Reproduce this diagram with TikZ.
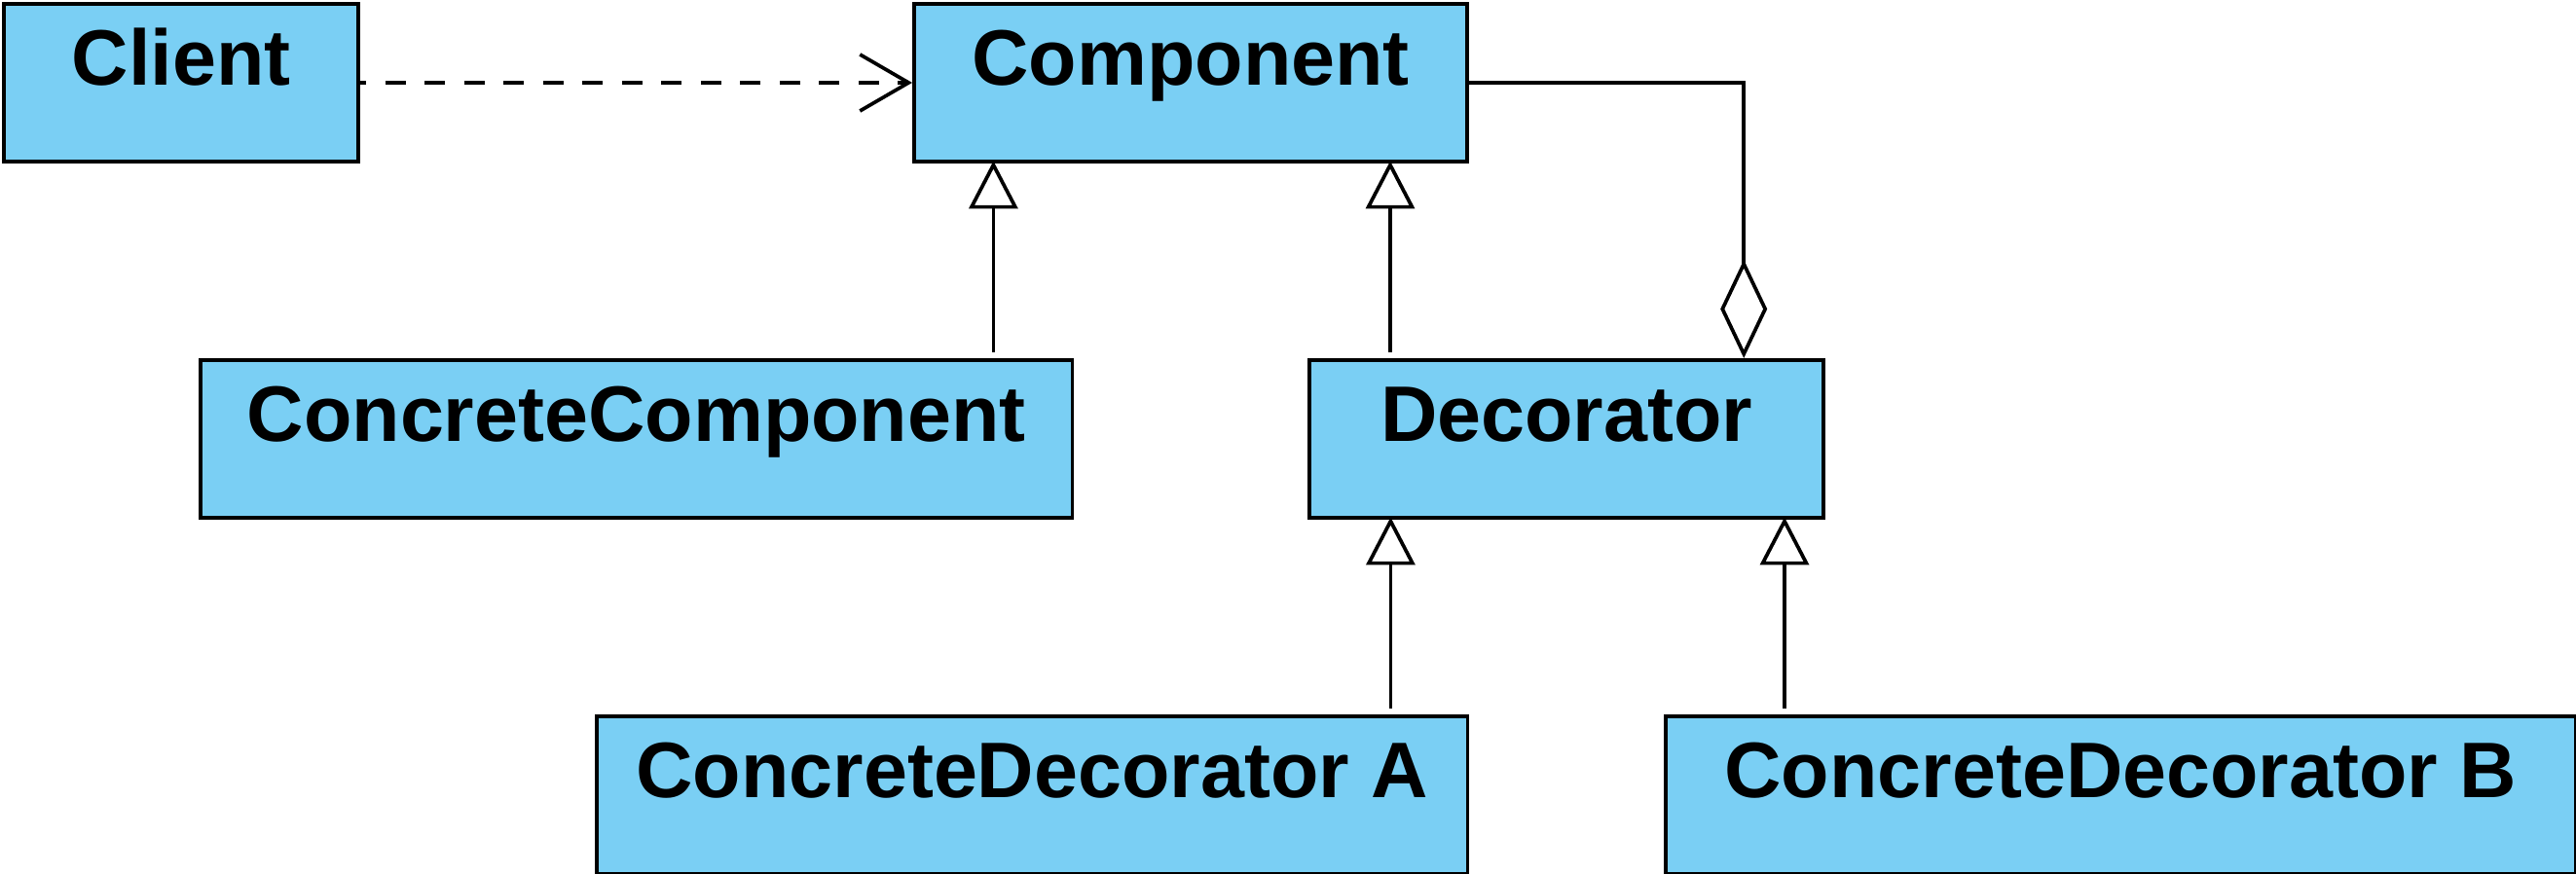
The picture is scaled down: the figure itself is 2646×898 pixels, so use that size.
\documentclass[tikz,border=0pt]{standalone}
\usepackage{fontspec}
\setmainfont{Liberation Sans}
\usetikzlibrary{arrows.meta}
\definecolor{boxblue}{RGB}{122,207,244}
\begin{document}
\begin{tikzpicture}[x=0.01cm,y=-0.01cm,
  cls/.style={draw=black, fill=boxblue, line width=1.1pt, rectangle, inner sep=0pt,
    anchor=north west, text height=0.84cm, text depth=0.78cm, align=center,
    font=\fontsize{23}{28}\selectfont\bfseries},
  conn/.style={line width=1.05pt, black},
  dep/.style={conn, dash pattern=on 0.21cm off 0.195cm, dash phase=0.15cm, -{Straight Barb[length=0.5cm, width=0.58cm, line width=1.05pt]}},
  inh/.style={conn, shorten <=0.06cm, shorten >=-0.025cm, -{Triangle[open, length=0.49cm, width=0.5cm, line width=1.05pt]}},
  agg/.style={conn, -{Diamond[open, length=1.01cm, width=0.48cm, line width=1.05pt]}}
]
\useasboundingbox (0,0) rectangle (2646,898);
\node[cls, minimum width=3.64cm] (client) at (2,2) {Client};
\node[cls, minimum width=5.68cm] (component) at (937,2) {Component};
\node[cls, minimum width=8.95cm] (concComp) at (204,368) {ConcreteComponent};
\node[cls, minimum width=5.28cm] (decorator) at (1343,368) {Decorator};
\node[cls, minimum width=8.94cm] (cdA) at (611,734) {ConcreteDecorator A};
\node[cls, minimum width=9.34cm] (cdB) at (1709,734) {ConcreteDecorator B};

\draw[dep] (client.east) -- (component.west);

\coordinate (c1) at ([xshift=3.665cm]concComp.north);
\draw[inh] (c1) -- (c1 |- component.south);
\coordinate (c2) at ([xshift=-1.81cm]decorator.north);
\draw[inh] (c2) -- (c2 |- component.south);
\coordinate (c3) at ([xshift=3.68cm]cdA.north);
\draw[inh] (c3) -- (c3 |- decorator.south);
\coordinate (c4) at ([xshift=-3.45cm]cdB.north);
\draw[inh] (c4) -- (c4 |- decorator.south);

\coordinate (d1) at ([xshift=1.82cm]decorator.north);
\draw[agg] (component.east) -| (d1);
\end{tikzpicture}
\end{document}
